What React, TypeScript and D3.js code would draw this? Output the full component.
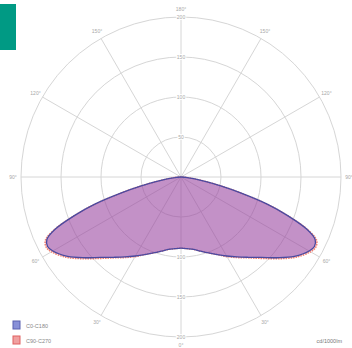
import React from "react";
import * as d3 from "d3";

const gammas = [0, 5, 10, 15, 20, 25, 30, 35, 40, 45, 50, 55, 60, 62.5, 65, 67.5, 70, 72.5, 75, 77.5, 80, 82.5, 85, 90];
const c0c180 = [89, 90, 92, 96, 101, 107, 114, 122, 131, 142, 157, 173, 185, 188, 185, 170, 143, 113, 78, 50, 28, 16, 8, 1];
const c90c270 = [89, 90, 92, 96, 101, 107, 115, 123, 132, 144, 159, 175, 187, 190, 187, 171, 143, 113, 78, 50, 28, 16, 8, 1];
const rings = [50, 100, 150, 200];
const angleTicks = [0, 30, 60, 90, 120, 150, 180];
const seriesNames = ["C0-C180", "C90-C270"];
const unitLabel = "cd/1000lm";

const W = 352, H = 348;
const cx = 181, cy = 177;
const R = 160;

export default function App() {
  const r = d3.scaleLinear().domain([0, 200]).range([0, R]);
  const toRad = (g: number) => (g * Math.PI) / 180;

  const buildPts = (vals: number[]) => {
    const pts: [number, number][] = [];
    for (let i = gammas.length - 1; i >= 0; i--) pts.push([Math.PI + toRad(gammas[i]), r(vals[i])]);
    for (let i = 1; i < gammas.length; i++) pts.push([Math.PI - toRad(gammas[i]), r(vals[i])]);
    return pts;
  };
  const line = d3.lineRadial<[number, number]>()
    .angle((d) => d[0])
    .radius((d) => d[1])
    .curve(d3.curveCatmullRomClosed.alpha(0.5));

  const pathBlue = line(buildPts(c0c180)) || "";
  const pathRed = line(buildPts(c90c270)) || "";

  const gridColor = "#d6d6d6";
  const labelColor = "#a8a8a8";
  const font = "Liberation Sans, Arial, sans-serif";

  const spokes: number[] = [];
  for (let a = 0; a < 360; a += 30) spokes.push(a);

  return (
    <svg width={W} height={H} style={{ position: "absolute", left: 0, top: 0, background: "#fff" }} fontFamily={font}>
      <rect x={0} y={4} width={16} height={46} fill="#009a84" />
      <g transform={`translate(${cx},${cy})`}>
        {rings.map((v) => (
          <circle key={v} r={r(v)} fill="none" stroke={gridColor} strokeWidth={1} />
        ))}
        {spokes.map((a) => (
          <line key={a} x1={0} y1={0} x2={R * Math.sin(toRad(a))} y2={R * Math.cos(toRad(a))} stroke={gridColor} strokeWidth={1} />
        ))}
        <path d={pathRed} fill="rgba(255,100,100,0.32)" stroke="#f08070" strokeWidth={1.5} strokeDasharray="1.5,1" />
        <path d={pathBlue} fill="rgba(105,55,190,0.4)" stroke="#4a4aa0" strokeWidth={1.3} />
        {rings.map((v) => (
          <text key={"t" + v} x={0} y={-r(v) + 1.8} textAnchor="middle" fontSize={5} fill={labelColor}
            stroke="#fff" strokeWidth={2} paintOrder="stroke">{v}</text>
        ))}
        {rings.filter((v) => v >= 100).map((v) => (
          <text key={"b" + v} x={0} y={r(v) + 1.8} textAnchor="middle" fontSize={5} fill={labelColor}
            stroke="#fff" strokeWidth={2} paintOrder="stroke">{v}</text>
        ))}
        {angleTicks.map((a) => {
          const sides = a === 0 || a === 180 ? [1] : [1, -1];
          return sides.map((s) => (
            <text key={a + "_" + s} x={s * 168 * Math.sin(toRad(a))} y={168 * Math.cos(toRad(a)) + 1.8}
              textAnchor="middle" fontSize={5} fill={labelColor}>{a}°</text>
          ));
        })}
      </g>
      <rect x={13} y={321} width={7} height={8} fill="#8890d8" stroke="#5a60b0" strokeWidth={1} />
      <rect x={13} y={336} width={7} height={8} fill="#f0a0a0" stroke="#e06060" strokeWidth={1} />
      <text x={26} y={327.5} fontSize={5.5} fill="#888">{seriesNames[0]}</text>
      <text x={26} y={342.5} fontSize={5.5} fill="#888">{seriesNames[1]}</text>
      <text x={342} y={343} textAnchor="end" fontSize={5.5} fill="#777">{unitLabel}</text>
    </svg>
  );
}
